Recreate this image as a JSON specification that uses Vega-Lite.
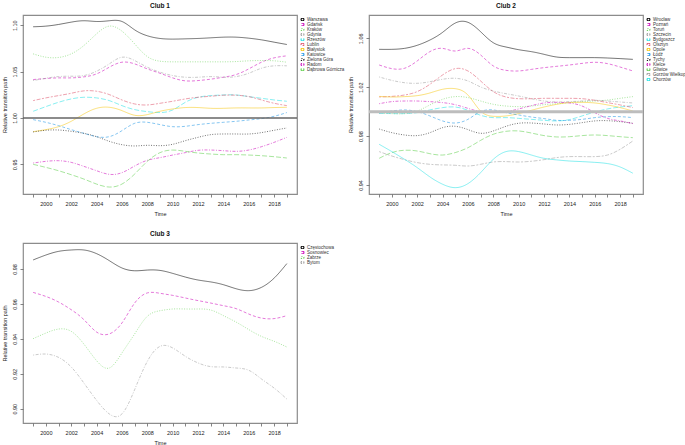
{
"$schema":"https://vega.github.io/schema/vega-lite/v6.json",
"background":"white",
"padding":{"left":1,"top":1,"right":0,"bottom":0},
"datasets":{
"club1":[
{"city":"Warszawa","year":1999,"value":1.0983},{"city":"Warszawa","year":2000,"value":1.0990},{"city":"Warszawa","year":2001,"value":1.1008},{"city":"Warszawa","year":2002,"value":1.1033},{"city":"Warszawa","year":2003,"value":1.1048},{"city":"Warszawa","year":2004,"value":1.1040},{"city":"Warszawa","year":2005,"value":1.1048},{"city":"Warszawa","year":2006,"value":1.1040},{"city":"Warszawa","year":2007,"value":1.0950},{"city":"Warszawa","year":2008,"value":1.0886},{"city":"Warszawa","year":2009,"value":1.0857},{"city":"Warszawa","year":2010,"value":1.0850},{"city":"Warszawa","year":2011,"value":1.0853},{"city":"Warszawa","year":2012,"value":1.0857},{"city":"Warszawa","year":2013,"value":1.0864},{"city":"Warszawa","year":2014,"value":1.0871},{"city":"Warszawa","year":2015,"value":1.0871},{"city":"Warszawa","year":2016,"value":1.0860},{"city":"Warszawa","year":2017,"value":1.0842},{"city":"Warszawa","year":2018,"value":1.0817},{"city":"Warszawa","year":2019,"value":1.0792},
{"city":"Gdańsk","year":1999,"value":1.0414},{"city":"Gdańsk","year":2000,"value":1.0425},{"city":"Gdańsk","year":2001,"value":1.0432},{"city":"Gdańsk","year":2002,"value":1.0432},{"city":"Gdańsk","year":2003,"value":1.0443},{"city":"Gdańsk","year":2004,"value":1.0475},{"city":"Gdańsk","year":2005,"value":1.0547},{"city":"Gdańsk","year":2006,"value":1.0601},{"city":"Gdańsk","year":2007,"value":1.0583},{"city":"Gdańsk","year":2008,"value":1.0529},{"city":"Gdańsk","year":2009,"value":1.0482},{"city":"Gdańsk","year":2010,"value":1.0432},{"city":"Gdańsk","year":2011,"value":1.0400},{"city":"Gdańsk","year":2012,"value":1.0403},{"city":"Gdańsk","year":2013,"value":1.0418},{"city":"Gdańsk","year":2014,"value":1.0439},{"city":"Gdańsk","year":2015,"value":1.0468},{"city":"Gdańsk","year":2016,"value":1.0529},{"city":"Gdańsk","year":2017,"value":1.0601},{"city":"Gdańsk","year":2018,"value":1.0648},{"city":"Gdańsk","year":2019,"value":1.0670},
{"city":"Kraków","year":1999,"value":1.0691},{"city":"Kraków","year":2000,"value":1.0655},{"city":"Kraków","year":2001,"value":1.0652},{"city":"Kraków","year":2002,"value":1.0691},{"city":"Kraków","year":2003,"value":1.0781},{"city":"Kraków","year":2004,"value":1.0907},{"city":"Kraków","year":2005,"value":1.0990},{"city":"Kraków","year":2006,"value":1.0936},{"city":"Kraków","year":2007,"value":1.0799},{"city":"Kraków","year":2008,"value":1.0662},{"city":"Kraków","year":2009,"value":1.0612},{"city":"Kraków","year":2010,"value":1.0605},{"city":"Kraków","year":2011,"value":1.0605},{"city":"Kraków","year":2012,"value":1.0605},{"city":"Kraków","year":2013,"value":1.0605},{"city":"Kraków","year":2014,"value":1.0605},{"city":"Kraków","year":2015,"value":1.0608},{"city":"Kraków","year":2016,"value":1.0616},{"city":"Kraków","year":2017,"value":1.0619},{"city":"Kraków","year":2018,"value":1.0616},{"city":"Kraków","year":2019,"value":1.0601},
{"city":"Gdynia","year":1999,"value":1.0403},{"city":"Gdynia","year":2000,"value":1.0428},{"city":"Gdynia","year":2001,"value":1.0446},{"city":"Gdynia","year":2002,"value":1.0450},{"city":"Gdynia","year":2003,"value":1.0457},{"city":"Gdynia","year":2004,"value":1.0504},{"city":"Gdynia","year":2005,"value":1.0583},{"city":"Gdynia","year":2006,"value":1.0655},{"city":"Gdynia","year":2007,"value":1.0619},{"city":"Gdynia","year":2008,"value":1.0547},{"city":"Gdynia","year":2009,"value":1.0493},{"city":"Gdynia","year":2010,"value":1.0457},{"city":"Gdynia","year":2011,"value":1.0439},{"city":"Gdynia","year":2012,"value":1.0439},{"city":"Gdynia","year":2013,"value":1.0446},{"city":"Gdynia","year":2014,"value":1.0439},{"city":"Gdynia","year":2015,"value":1.0446},{"city":"Gdynia","year":2016,"value":1.0482},{"city":"Gdynia","year":2017,"value":1.0536},{"city":"Gdynia","year":2018,"value":1.0562},{"city":"Gdynia","year":2019,"value":1.0562},
{"city":"Rzeszów","year":1999,"value":1.0072},{"city":"Rzeszów","year":2000,"value":1.0122},{"city":"Rzeszów","year":2001,"value":1.0169},{"city":"Rzeszów","year":2002,"value":1.0205},{"city":"Rzeszów","year":2003,"value":1.0223},{"city":"Rzeszów","year":2004,"value":1.0216},{"city":"Rzeszów","year":2005,"value":1.0187},{"city":"Rzeszów","year":2006,"value":1.0133},{"city":"Rzeszów","year":2007,"value":1.0090},{"city":"Rzeszów","year":2008,"value":1.0068},{"city":"Rzeszów","year":2009,"value":1.0058},{"city":"Rzeszów","year":2010,"value":1.0086},{"city":"Rzeszów","year":2011,"value":1.0169},{"city":"Rzeszów","year":2012,"value":1.0223},{"city":"Rzeszów","year":2013,"value":1.0241},{"city":"Rzeszów","year":2014,"value":1.0248},{"city":"Rzeszów","year":2015,"value":1.0248},{"city":"Rzeszów","year":2016,"value":1.0230},{"city":"Rzeszów","year":2017,"value":1.0212},{"city":"Rzeszów","year":2018,"value":1.0194},{"city":"Rzeszów","year":2019,"value":1.0180},
{"city":"Lublin","year":1999,"value":1.0187},{"city":"Lublin","year":2000,"value":1.0216},{"city":"Lublin","year":2001,"value":1.0241},{"city":"Lublin","year":2002,"value":1.0266},{"city":"Lublin","year":2003,"value":1.0292},{"city":"Lublin","year":2004,"value":1.0288},{"city":"Lublin","year":2005,"value":1.0252},{"city":"Lublin","year":2006,"value":1.0194},{"city":"Lublin","year":2007,"value":1.0151},{"city":"Lublin","year":2008,"value":1.0140},{"city":"Lublin","year":2009,"value":1.0158},{"city":"Lublin","year":2010,"value":1.0180},{"city":"Lublin","year":2011,"value":1.0205},{"city":"Lublin","year":2012,"value":1.0223},{"city":"Lublin","year":2013,"value":1.0234},{"city":"Lublin","year":2014,"value":1.0245},{"city":"Lublin","year":2015,"value":1.0245},{"city":"Lublin","year":2016,"value":1.0230},{"city":"Lublin","year":2017,"value":1.0194},{"city":"Lublin","year":2018,"value":1.0158},{"city":"Lublin","year":2019,"value":1.0133},
{"city":"Białystok","year":1999,"value":0.9852},{"city":"Białystok","year":2000,"value":0.9874},{"city":"Białystok","year":2001,"value":0.9906},{"city":"Białystok","year":2002,"value":0.9964},{"city":"Białystok","year":2003,"value":1.0043},{"city":"Białystok","year":2004,"value":1.0104},{"city":"Białystok","year":2005,"value":1.0115},{"city":"Białystok","year":2006,"value":1.0079},{"city":"Białystok","year":2007,"value":1.0029},{"city":"Białystok","year":2008,"value":1.0036},{"city":"Białystok","year":2009,"value":1.0072},{"city":"Białystok","year":2010,"value":1.0097},{"city":"Białystok","year":2011,"value":1.0112},{"city":"Białystok","year":2012,"value":1.0112},{"city":"Białystok","year":2013,"value":1.0104},{"city":"Białystok","year":2014,"value":1.0104},{"city":"Białystok","year":2015,"value":1.0108},{"city":"Białystok","year":2016,"value":1.0108},{"city":"Białystok","year":2017,"value":1.0108},{"city":"Białystok","year":2018,"value":1.0112},{"city":"Białystok","year":2019,"value":1.0115},
{"city":"Katowice","year":1999,"value":0.9982},{"city":"Katowice","year":2000,"value":0.9953},{"city":"Katowice","year":2001,"value":0.9917},{"city":"Katowice","year":2002,"value":0.9874},{"city":"Katowice","year":2003,"value":0.9834},{"city":"Katowice","year":2004,"value":0.9798},{"city":"Katowice","year":2005,"value":0.9798},{"city":"Katowice","year":2006,"value":0.9863},{"city":"Katowice","year":2007,"value":0.9942},{"city":"Katowice","year":2008,"value":0.9953},{"city":"Katowice","year":2009,"value":0.9928},{"city":"Katowice","year":2010,"value":0.9906},{"city":"Katowice","year":2011,"value":0.9910},{"city":"Katowice","year":2012,"value":0.9928},{"city":"Katowice","year":2013,"value":0.9942},{"city":"Katowice","year":2014,"value":0.9953},{"city":"Katowice","year":2015,"value":0.9964},{"city":"Katowice","year":2016,"value":0.9978},{"city":"Katowice","year":2017,"value":0.9993},{"city":"Katowice","year":2018,"value":1.0018},{"city":"Katowice","year":2019,"value":1.0058},
{"city":"Zielona Góra","year":1999,"value":0.9849},{"city":"Zielona Góra","year":2000,"value":0.9867},{"city":"Zielona Góra","year":2001,"value":0.9870},{"city":"Zielona Góra","year":2002,"value":0.9856},{"city":"Zielona Góra","year":2003,"value":0.9834},{"city":"Zielona Góra","year":2004,"value":0.9798},{"city":"Zielona Góra","year":2005,"value":0.9748},{"city":"Zielona Góra","year":2006,"value":0.9712},{"city":"Zielona Góra","year":2007,"value":0.9698},{"city":"Zielona Góra","year":2008,"value":0.9705},{"city":"Zielona Góra","year":2009,"value":0.9701},{"city":"Zielona Góra","year":2010,"value":0.9716},{"city":"Zielona Góra","year":2011,"value":0.9755},{"city":"Zielona Góra","year":2012,"value":0.9791},{"city":"Zielona Góra","year":2013,"value":0.9820},{"city":"Zielona Góra","year":2014,"value":0.9827},{"city":"Zielona Góra","year":2015,"value":0.9827},{"city":"Zielona Góra","year":2016,"value":0.9827},{"city":"Zielona Góra","year":2017,"value":0.9842},{"city":"Zielona Góra","year":2018,"value":0.9867},{"city":"Zielona Góra","year":2019,"value":0.9892},
{"city":"Radom","year":1999,"value":0.9514},{"city":"Radom","year":2000,"value":0.9532},{"city":"Radom","year":2001,"value":0.9539},{"city":"Radom","year":2002,"value":0.9521},{"city":"Radom","year":2003,"value":0.9478},{"city":"Radom","year":2004,"value":0.9431},{"city":"Radom","year":2005,"value":0.9392},{"city":"Radom","year":2006,"value":0.9410},{"city":"Radom","year":2007,"value":0.9482},{"city":"Radom","year":2008,"value":0.9543},{"city":"Radom","year":2009,"value":0.9572},{"city":"Radom","year":2010,"value":0.9600},{"city":"Radom","year":2011,"value":0.9626},{"city":"Radom","year":2012,"value":0.9651},{"city":"Radom","year":2013,"value":0.9654},{"city":"Radom","year":2014,"value":0.9647},{"city":"Radom","year":2015,"value":0.9640},{"city":"Radom","year":2016,"value":0.9654},{"city":"Radom","year":2017,"value":0.9690},{"city":"Radom","year":2018,"value":0.9737},{"city":"Radom","year":2019,"value":0.9791},
{"city":"Dąbrowa Górnicza","year":1999,"value":0.9500},{"city":"Dąbrowa Górnicza","year":2000,"value":0.9467},{"city":"Dąbrowa Górnicza","year":2001,"value":0.9431},{"city":"Dąbrowa Górnicza","year":2002,"value":0.9388},{"city":"Dąbrowa Górnicza","year":2003,"value":0.9341},{"city":"Dąbrowa Górnicza","year":2004,"value":0.9287},{"city":"Dąbrowa Górnicza","year":2005,"value":0.9255},{"city":"Dąbrowa Górnicza","year":2006,"value":0.9287},{"city":"Dąbrowa Górnicza","year":2007,"value":0.9395},{"city":"Dąbrowa Górnicza","year":2008,"value":0.9532},{"city":"Dąbrowa Górnicza","year":2009,"value":0.9626},{"city":"Dąbrowa Górnicza","year":2010,"value":0.9654},{"city":"Dąbrowa Górnicza","year":2011,"value":0.9640},{"city":"Dąbrowa Górnicza","year":2012,"value":0.9622},{"city":"Dąbrowa Górnicza","year":2013,"value":0.9611},{"city":"Dąbrowa Górnicza","year":2014,"value":0.9604},{"city":"Dąbrowa Górnicza","year":2015,"value":0.9604},{"city":"Dąbrowa Górnicza","year":2016,"value":0.9600},{"city":"Dąbrowa Górnicza","year":2017,"value":0.9593},{"city":"Dąbrowa Górnicza","year":2018,"value":0.9582},{"city":"Dąbrowa Górnicza","year":2019,"value":0.9568}
],
"club2":[
{"city":"Wrocław","year":1999,"value":1.0510},{"city":"Wrocław","year":2000,"value":1.0510},{"city":"Wrocław","year":2001,"value":1.0518},{"city":"Wrocław","year":2002,"value":1.0543},{"city":"Wrocław","year":2003,"value":1.0586},{"city":"Wrocław","year":2004,"value":1.0649},{"city":"Wrocław","year":2005,"value":1.0725},{"city":"Wrocław","year":2006,"value":1.0731},{"city":"Wrocław","year":2007,"value":1.0654},{"city":"Wrocław","year":2008,"value":1.0564},{"city":"Wrocław","year":2009,"value":1.0529},{"city":"Wrocław","year":2010,"value":1.0507},{"city":"Wrocław","year":2011,"value":1.0491},{"city":"Wrocław","year":2012,"value":1.0469},{"city":"Wrocław","year":2013,"value":1.0447},{"city":"Wrocław","year":2014,"value":1.0442},{"city":"Wrocław","year":2015,"value":1.0442},{"city":"Wrocław","year":2016,"value":1.0442},{"city":"Wrocław","year":2017,"value":1.0439},{"city":"Wrocław","year":2018,"value":1.0434},{"city":"Wrocław","year":2019,"value":1.0428},
{"city":"Poznań","year":1999,"value":1.0382},{"city":"Poznań","year":2000,"value":1.0352},{"city":"Poznań","year":2001,"value":1.0355},{"city":"Poznań","year":2002,"value":1.0415},{"city":"Poznań","year":2003,"value":1.0491},{"city":"Poznań","year":2004,"value":1.0518},{"city":"Poznań","year":2005,"value":1.0496},{"city":"Poznań","year":2006,"value":1.0518},{"city":"Poznań","year":2007,"value":1.0464},{"city":"Poznań","year":2008,"value":1.0374},{"city":"Poznań","year":2009,"value":1.0338},{"city":"Poznań","year":2010,"value":1.0333},{"city":"Poznań","year":2011,"value":1.0346},{"city":"Poznań","year":2012,"value":1.0360},{"city":"Poznań","year":2013,"value":1.0371},{"city":"Poznań","year":2014,"value":1.0382},{"city":"Poznań","year":2015,"value":1.0395},{"city":"Poznań","year":2016,"value":1.0404},{"city":"Poznań","year":2017,"value":1.0393},{"city":"Poznań","year":2018,"value":1.0365},{"city":"Poznań","year":2019,"value":1.0333},
{"city":"Toruń","year":1999,"value":0.9989},{"city":"Toruń","year":2000,"value":0.9984},{"city":"Toruń","year":2001,"value":0.9984},{"city":"Toruń","year":2002,"value":1.0005},{"city":"Toruń","year":2003,"value":1.0055},{"city":"Toruń","year":2004,"value":1.0101},{"city":"Toruń","year":2005,"value":1.0123},{"city":"Toruń","year":2006,"value":1.0115},{"city":"Toruń","year":2007,"value":1.0087},{"city":"Toruń","year":2008,"value":1.0060},{"city":"Toruń","year":2009,"value":1.0046},{"city":"Toruń","year":2010,"value":1.0041},{"city":"Toruń","year":2011,"value":1.0046},{"city":"Toruń","year":2012,"value":1.0057},{"city":"Toruń","year":2013,"value":1.0065},{"city":"Toruń","year":2014,"value":1.0074},{"city":"Toruń","year":2015,"value":1.0082},{"city":"Toruń","year":2016,"value":1.0087},{"city":"Toruń","year":2017,"value":1.0095},{"city":"Toruń","year":2018,"value":1.0109},{"city":"Toruń","year":2019,"value":1.0123},
{"city":"Szczecin","year":1999,"value":1.0284},{"city":"Szczecin","year":2000,"value":1.0256},{"city":"Szczecin","year":2001,"value":1.0237},{"city":"Szczecin","year":2002,"value":1.0232},{"city":"Szczecin","year":2003,"value":1.0245},{"city":"Szczecin","year":2004,"value":1.0265},{"city":"Szczecin","year":2005,"value":1.0273},{"city":"Szczecin","year":2006,"value":1.0251},{"city":"Szczecin","year":2007,"value":1.0202},{"city":"Szczecin","year":2008,"value":1.0169},{"city":"Szczecin","year":2009,"value":1.0147},{"city":"Szczecin","year":2010,"value":1.0128},{"city":"Szczecin","year":2011,"value":1.0106},{"city":"Szczecin","year":2012,"value":1.0087},{"city":"Szczecin","year":2013,"value":1.0079},{"city":"Szczecin","year":2014,"value":1.0082},{"city":"Szczecin","year":2015,"value":1.0087},{"city":"Szczecin","year":2016,"value":1.0093},{"city":"Szczecin","year":2017,"value":1.0087},{"city":"Szczecin","year":2018,"value":1.0079},{"city":"Szczecin","year":2019,"value":1.0071},
{"city":"Bydgoszcz","year":1999,"value":0.9986},{"city":"Bydgoszcz","year":2000,"value":0.9984},{"city":"Bydgoszcz","year":2001,"value":0.9984},{"city":"Bydgoszcz","year":2002,"value":0.9992},{"city":"Bydgoszcz","year":2003,"value":1.0014},{"city":"Bydgoszcz","year":2004,"value":1.0033},{"city":"Bydgoszcz","year":2005,"value":1.0038},{"city":"Bydgoszcz","year":2006,"value":1.0011},{"city":"Bydgoszcz","year":2007,"value":0.9970},{"city":"Bydgoszcz","year":2008,"value":0.9951},{"city":"Bydgoszcz","year":2009,"value":0.9951},{"city":"Bydgoszcz","year":2010,"value":0.9945},{"city":"Bydgoszcz","year":2011,"value":0.9937},{"city":"Bydgoszcz","year":2012,"value":0.9929},{"city":"Bydgoszcz","year":2013,"value":0.9924},{"city":"Bydgoszcz","year":2014,"value":0.9935},{"city":"Bydgoszcz","year":2015,"value":0.9965},{"city":"Bydgoszcz","year":2016,"value":0.9997},{"city":"Bydgoszcz","year":2017,"value":1.0022},{"city":"Bydgoszcz","year":2018,"value":1.0038},{"city":"Bydgoszcz","year":2019,"value":1.0049},
{"city":"Olsztyn","year":1999,"value":1.0120},{"city":"Olsztyn","year":2000,"value":1.0125},{"city":"Olsztyn","year":2001,"value":1.0136},{"city":"Olsztyn","year":2002,"value":1.0164},{"city":"Olsztyn","year":2003,"value":1.0224},{"city":"Olsztyn","year":2004,"value":1.0300},{"city":"Olsztyn","year":2005,"value":1.0352},{"city":"Olsztyn","year":2006,"value":1.0333},{"city":"Olsztyn","year":2007,"value":1.0251},{"city":"Olsztyn","year":2008,"value":1.0164},{"city":"Olsztyn","year":2009,"value":1.0120},{"city":"Olsztyn","year":2010,"value":1.0106},{"city":"Olsztyn","year":2011,"value":1.0106},{"city":"Olsztyn","year":2012,"value":1.0109},{"city":"Olsztyn","year":2013,"value":1.0109},{"city":"Olsztyn","year":2014,"value":1.0109},{"city":"Olsztyn","year":2015,"value":1.0106},{"city":"Olsztyn","year":2016,"value":1.0093},{"city":"Olsztyn","year":2017,"value":1.0074},{"city":"Olsztyn","year":2018,"value":1.0055},{"city":"Olsztyn","year":2019,"value":1.0033},
{"city":"Opole","year":1999,"value":1.0125},{"city":"Opole","year":2000,"value":1.0120},{"city":"Opole","year":2001,"value":1.0123},{"city":"Opole","year":2002,"value":1.0131},{"city":"Opole","year":2003,"value":1.0153},{"city":"Opole","year":2004,"value":1.0183},{"city":"Opole","year":2005,"value":1.0188},{"city":"Opole","year":2006,"value":1.0136},{"city":"Opole","year":2007,"value":1.0005},{"city":"Opole","year":2008,"value":0.9962},{"city":"Opole","year":2009,"value":0.9965},{"city":"Opole","year":2010,"value":0.9984},{"city":"Opole","year":2011,"value":1.0011},{"city":"Opole","year":2012,"value":1.0038},{"city":"Opole","year":2013,"value":1.0060},{"city":"Opole","year":2014,"value":1.0074},{"city":"Opole","year":2015,"value":1.0076},{"city":"Opole","year":2016,"value":1.0071},{"city":"Opole","year":2017,"value":1.0055},{"city":"Opole","year":2018,"value":1.0033},{"city":"Opole","year":2019,"value":1.0005},
{"city":"Łódź","year":1999,"value":0.9989},{"city":"Łódź","year":2000,"value":1.0005},{"city":"Łódź","year":2001,"value":1.0014},{"city":"Łódź","year":2002,"value":1.0000},{"city":"Łódź","year":2003,"value":0.9965},{"city":"Łódź","year":2004,"value":0.9924},{"city":"Łódź","year":2005,"value":0.9907},{"city":"Łódź","year":2006,"value":0.9937},{"city":"Łódź","year":2007,"value":1.0000},{"city":"Łódź","year":2008,"value":1.0014},{"city":"Łódź","year":2009,"value":0.9992},{"city":"Łódź","year":2010,"value":0.9973},{"city":"Łódź","year":2011,"value":0.9956},{"city":"Łódź","year":2012,"value":0.9943},{"city":"Łódź","year":2013,"value":0.9929},{"city":"Łódź","year":2014,"value":0.9929},{"city":"Łódź","year":2015,"value":0.9937},{"city":"Łódź","year":2016,"value":0.9951},{"city":"Łódź","year":2017,"value":0.9959},{"city":"Łódź","year":2018,"value":0.9959},{"city":"Łódź","year":2019,"value":0.9951},
{"city":"Tychy","year":1999,"value":0.9858},{"city":"Tychy","year":2000,"value":0.9828},{"city":"Tychy","year":2001,"value":0.9809},{"city":"Tychy","year":2002,"value":0.9804},{"city":"Tychy","year":2003,"value":0.9828},{"city":"Tychy","year":2004,"value":0.9869},{"city":"Tychy","year":2005,"value":0.9880},{"city":"Tychy","year":2006,"value":0.9853},{"city":"Tychy","year":2007,"value":0.9823},{"city":"Tychy","year":2008,"value":0.9842},{"city":"Tychy","year":2009,"value":0.9880},{"city":"Tychy","year":2010,"value":0.9905},{"city":"Tychy","year":2011,"value":0.9907},{"city":"Tychy","year":2012,"value":0.9899},{"city":"Tychy","year":2013,"value":0.9891},{"city":"Tychy","year":2014,"value":0.9896},{"city":"Tychy","year":2015,"value":0.9910},{"city":"Tychy","year":2016,"value":0.9924},{"city":"Tychy","year":2017,"value":0.9926},{"city":"Tychy","year":2018,"value":0.9918},{"city":"Tychy","year":2019,"value":0.9905},
{"city":"Kielce","year":1999,"value":1.0065},{"city":"Kielce","year":2000,"value":1.0082},{"city":"Kielce","year":2001,"value":1.0087},{"city":"Kielce","year":2002,"value":1.0087},{"city":"Kielce","year":2003,"value":1.0082},{"city":"Kielce","year":2004,"value":1.0074},{"city":"Kielce","year":2005,"value":1.0057},{"city":"Kielce","year":2006,"value":1.0027},{"city":"Kielce","year":2007,"value":1.0000},{"city":"Kielce","year":2008,"value":0.9992},{"city":"Kielce","year":2009,"value":1.0000},{"city":"Kielce","year":2010,"value":1.0022},{"city":"Kielce","year":2011,"value":1.0049},{"city":"Kielce","year":2012,"value":1.0071},{"city":"Kielce","year":2013,"value":1.0076},{"city":"Kielce","year":2014,"value":1.0071},{"city":"Kielce","year":2015,"value":1.0046},{"city":"Kielce","year":2016,"value":0.9992},{"city":"Kielce","year":2017,"value":0.9945},{"city":"Kielce","year":2018,"value":0.9924},{"city":"Kielce","year":2019,"value":0.9902},
{"city":"Gliwice","year":1999,"value":0.9618},{"city":"Gliwice","year":2000,"value":0.9665},{"city":"Gliwice","year":2001,"value":0.9684},{"city":"Gliwice","year":2002,"value":0.9678},{"city":"Gliwice","year":2003,"value":0.9656},{"city":"Gliwice","year":2004,"value":0.9645},{"city":"Gliwice","year":2005,"value":0.9665},{"city":"Gliwice","year":2006,"value":0.9705},{"city":"Gliwice","year":2007,"value":0.9765},{"city":"Gliwice","year":2008,"value":0.9815},{"city":"Gliwice","year":2009,"value":0.9839},{"city":"Gliwice","year":2010,"value":0.9842},{"city":"Gliwice","year":2011,"value":0.9825},{"city":"Gliwice","year":2012,"value":0.9804},{"city":"Gliwice","year":2013,"value":0.9793},{"city":"Gliwice","year":2014,"value":0.9795},{"city":"Gliwice","year":2015,"value":0.9804},{"city":"Gliwice","year":2016,"value":0.9809},{"city":"Gliwice","year":2017,"value":0.9804},{"city":"Gliwice","year":2018,"value":0.9795},{"city":"Gliwice","year":2019,"value":0.9787},
{"city":"Gorzów Wielkopolski","year":1999,"value":0.9673},{"city":"Gorzów Wielkopolski","year":2000,"value":0.9637},{"city":"Gorzów Wielkopolski","year":2001,"value":0.9607},{"city":"Gorzów Wielkopolski","year":2002,"value":0.9583},{"city":"Gorzów Wielkopolski","year":2003,"value":0.9569},{"city":"Gorzów Wielkopolski","year":2004,"value":0.9564},{"city":"Gorzów Wielkopolski","year":2005,"value":0.9561},{"city":"Gorzów Wielkopolski","year":2006,"value":0.9555},{"city":"Gorzów Wielkopolski","year":2007,"value":0.9569},{"city":"Gorzów Wielkopolski","year":2008,"value":0.9588},{"city":"Gorzów Wielkopolski","year":2009,"value":0.9591},{"city":"Gorzów Wielkopolski","year":2010,"value":0.9588},{"city":"Gorzów Wielkopolski","year":2011,"value":0.9594},{"city":"Gorzów Wielkopolski","year":2012,"value":0.9607},{"city":"Gorzów Wielkopolski","year":2013,"value":0.9624},{"city":"Gorzów Wielkopolski","year":2014,"value":0.9632},{"city":"Gorzów Wielkopolski","year":2015,"value":0.9632},{"city":"Gorzów Wielkopolski","year":2016,"value":0.9632},{"city":"Gorzów Wielkopolski","year":2017,"value":0.9645},{"city":"Gorzów Wielkopolski","year":2018,"value":0.9692},{"city":"Gorzów Wielkopolski","year":2019,"value":0.9760},
{"city":"Chorzów","year":1999,"value":0.9733},{"city":"Chorzów","year":2000,"value":0.9673},{"city":"Chorzów","year":2001,"value":0.9610},{"city":"Chorzów","year":2002,"value":0.9542},{"city":"Chorzów","year":2003,"value":0.9466},{"city":"Chorzów","year":2004,"value":0.9406},{"city":"Chorzów","year":2005,"value":0.9378},{"city":"Chorzów","year":2006,"value":0.9411},{"city":"Chorzów","year":2007,"value":0.9501},{"city":"Chorzów","year":2008,"value":0.9610},{"city":"Chorzów","year":2009,"value":0.9673},{"city":"Chorzów","year":2010,"value":0.9673},{"city":"Chorzów","year":2011,"value":0.9645},{"city":"Chorzów","year":2012,"value":0.9618},{"city":"Chorzów","year":2013,"value":0.9605},{"city":"Chorzów","year":2014,"value":0.9596},{"city":"Chorzów","year":2015,"value":0.9591},{"city":"Chorzów","year":2016,"value":0.9585},{"city":"Chorzów","year":2017,"value":0.9575},{"city":"Chorzów","year":2018,"value":0.9547},{"city":"Chorzów","year":2019,"value":0.9496}
],
"club3":[
{"city":"Częstochowa","year":1999,"value":0.9852},{"city":"Częstochowa","year":2000,"value":0.9880},{"city":"Częstochowa","year":2001,"value":0.9901},{"city":"Częstochowa","year":2002,"value":0.9909},{"city":"Częstochowa","year":2003,"value":0.9909},{"city":"Częstochowa","year":2004,"value":0.9888},{"city":"Częstochowa","year":2005,"value":0.9848},{"city":"Częstochowa","year":2006,"value":0.9806},{"city":"Częstochowa","year":2007,"value":0.9790},{"city":"Częstochowa","year":2008,"value":0.9794},{"city":"Częstochowa","year":2009,"value":0.9792},{"city":"Częstochowa","year":2010,"value":0.9775},{"city":"Częstochowa","year":2011,"value":0.9754},{"city":"Częstochowa","year":2012,"value":0.9737},{"city":"Częstochowa","year":2013,"value":0.9726},{"city":"Częstochowa","year":2014,"value":0.9710},{"city":"Częstochowa","year":2015,"value":0.9687},{"city":"Częstochowa","year":2016,"value":0.9676},{"city":"Częstochowa","year":2017,"value":0.9695},{"city":"Częstochowa","year":2018,"value":0.9748},{"city":"Częstochowa","year":2019,"value":0.9831},
{"city":"Sosnowiec","year":1999,"value":0.9666},{"city":"Sosnowiec","year":2000,"value":0.9643},{"city":"Sosnowiec","year":2001,"value":0.9611},{"city":"Sosnowiec","year":2002,"value":0.9567},{"city":"Sosnowiec","year":2003,"value":0.9510},{"city":"Sosnowiec","year":2004,"value":0.9439},{"city":"Sosnowiec","year":2005,"value":0.9428},{"city":"Sosnowiec","year":2006,"value":0.9491},{"city":"Sosnowiec","year":2007,"value":0.9605},{"city":"Sosnowiec","year":2008,"value":0.9663},{"city":"Sosnowiec","year":2009,"value":0.9661},{"city":"Sosnowiec","year":2010,"value":0.9649},{"city":"Sosnowiec","year":2011,"value":0.9634},{"city":"Sosnowiec","year":2012,"value":0.9619},{"city":"Sosnowiec","year":2013,"value":0.9605},{"city":"Sosnowiec","year":2014,"value":0.9590},{"city":"Sosnowiec","year":2015,"value":0.9573},{"city":"Sosnowiec","year":2016,"value":0.9542},{"city":"Sosnowiec","year":2017,"value":0.9519},{"city":"Sosnowiec","year":2018,"value":0.9516},{"city":"Sosnowiec","year":2019,"value":0.9533},
{"city":"Zabrze","year":1999,"value":0.9401},{"city":"Zabrze","year":2000,"value":0.9433},{"city":"Zabrze","year":2001,"value":0.9456},{"city":"Zabrze","year":2002,"value":0.9443},{"city":"Zabrze","year":2003,"value":0.9370},{"city":"Zabrze","year":2004,"value":0.9275},{"city":"Zabrze","year":2005,"value":0.9233},{"city":"Zabrze","year":2006,"value":0.9319},{"city":"Zabrze","year":2007,"value":0.9428},{"city":"Zabrze","year":2008,"value":0.9529},{"city":"Zabrze","year":2009,"value":0.9561},{"city":"Zabrze","year":2010,"value":0.9571},{"city":"Zabrze","year":2011,"value":0.9571},{"city":"Zabrze","year":2012,"value":0.9571},{"city":"Zabrze","year":2013,"value":0.9565},{"city":"Zabrze","year":2014,"value":0.9533},{"city":"Zabrze","year":2015,"value":0.9496},{"city":"Zabrze","year":2016,"value":0.9453},{"city":"Zabrze","year":2017,"value":0.9414},{"city":"Zabrze","year":2018,"value":0.9386},{"city":"Zabrze","year":2019,"value":0.9353},
{"city":"Bytom","year":1999,"value":0.9307},{"city":"Bytom","year":2000,"value":0.9313},{"city":"Bytom","year":2001,"value":0.9294},{"city":"Bytom","year":2002,"value":0.9239},{"city":"Bytom","year":2003,"value":0.9147},{"city":"Bytom","year":2004,"value":0.9048},{"city":"Bytom","year":2005,"value":0.8970},{"city":"Bytom","year":2006,"value":0.8970},{"city":"Bytom","year":2007,"value":0.9109},{"city":"Bytom","year":2008,"value":0.9271},{"city":"Bytom","year":2009,"value":0.9357},{"city":"Bytom","year":2010,"value":0.9348},{"city":"Bytom","year":2011,"value":0.9300},{"city":"Bytom","year":2012,"value":0.9262},{"city":"Bytom","year":2013,"value":0.9241},{"city":"Bytom","year":2014,"value":0.9239},{"city":"Bytom","year":2015,"value":0.9233},{"city":"Bytom","year":2016,"value":0.9220},{"city":"Bytom","year":2017,"value":0.9170},{"city":"Bytom","year":2018,"value":0.9118},{"city":"Bytom","year":2019,"value":0.9055}
]
},
"columns":2,
"bounds":"flush",
"spacing":{"row":49,"column":72},
"resolve":{"scale":{"x":"independent","y":"independent","color":"independent","strokeDash":"independent"},"legend":{"color":"independent","strokeDash":"independent"}},
"concat":[
{"title":"Club 1","width":274,"height":179,
"layer":[
{"data":{"name":"club1"},
"mark":{"type":"line","interpolate":"natural","strokeWidth":1,"opacity":0.55},
"encoding":{
"x":{"field":"year","type":"quantitative","scale":{"domain":[1998.2,2019.8],"nice":false,"zero":false},"axis":{"title":"Time","values":[1999,2000,2001,2002,2003,2004,2005,2006,2007,2008,2009,2010,2011,2012,2013,2014,2015,2016,2017,2018,2019],"format":"d","labelExpr":"datum.value % 2 == 0 ? datum.label : ''"}},
"y":{"field":"value","type":"quantitative","scale":{"domain":[0.918,1.111],"nice":false,"zero":false},"axis":{"title":"Relative transition path","values":[0.95,1.0,1.05,1.1],"format":".2f"}},
"color":{"field":"city","type":"nominal","scale":{"domain":["Warszawa","Gdańsk","Kraków","Gdynia","Rzeszów","Lublin","Białystok","Katowice","Zielona Góra","Radom","Dąbrowa Górnicza"],"range":["#000000","#CD0BBC","#61D04F","#9E9E9E","#28E2E5","#DF536B","#F5C710","#2297E6","#000000","#CD0BBC","#61D04F"]},"legend":{"title":null,"orient":"none","legendX":277,"legendY":3,"symbolType":"circle","symbolOpacity":0.9,"clipHeight":3,"rowPadding":0}},
"strokeDash":{"field":"city","type":"nominal","scale":{"domain":["Warszawa","Gdańsk","Kraków","Gdynia","Rzeszów","Lublin","Białystok","Katowice","Zielona Góra","Radom","Dąbrowa Górnicza"],"range":[[1,0],[3,2],[1,1.5],[1,1.5,3,1.5],[5,2],[2,1.5,4,1.5],[1,0],[3,2],[1,1.5],[1,1.5,3,1.5],[5,2]]},"legend":null}
}},
{"data":{"values":[{"ref":1}]},"mark":{"type":"rule","color":"#666666","strokeWidth":1.5},"encoding":{"y":{"field":"ref","type":"quantitative"}}}
]},
{"title":"Club 2","width":274,"height":179,
"layer":[
{"data":{"name":"club2"},
"mark":{"type":"line","interpolate":"natural","strokeWidth":1,"opacity":0.55},
"encoding":{
"x":{"field":"year","type":"quantitative","scale":{"domain":[1998.2,2019.8],"nice":false,"zero":false},"axis":{"title":"Time","values":[1999,2000,2001,2002,2003,2004,2005,2006,2007,2008,2009,2010,2011,2012,2013,2014,2015,2016,2017,2018,2019],"format":"d","labelExpr":"datum.value % 2 == 0 ? datum.label : ''"}},
"y":{"field":"value","type":"quantitative","scale":{"domain":[0.9326,1.0791],"nice":false,"zero":false},"axis":{"title":"Relative transition path","values":[0.94,0.96,0.98,1.0,1.02,1.04,1.06],"format":".2f"}},
"color":{"field":"city","type":"nominal","scale":{"domain":["Wrocław","Poznań","Toruń","Szczecin","Bydgoszcz","Olsztyn","Opole","Łódź","Tychy","Kielce","Gliwice","Gorzów Wielkopolski","Chorzów"],"range":["#000000","#CD0BBC","#61D04F","#9E9E9E","#28E2E5","#DF536B","#F5C710","#2297E6","#000000","#CD0BBC","#61D04F","#9E9E9E","#28E2E5"]},"legend":{"title":null,"orient":"none","legendX":277,"legendY":3,"symbolType":"circle","symbolOpacity":0.9,"clipHeight":3,"rowPadding":0}},
"strokeDash":{"field":"city","type":"nominal","scale":{"domain":["Wrocław","Poznań","Toruń","Szczecin","Bydgoszcz","Olsztyn","Opole","Łódź","Tychy","Kielce","Gliwice","Gorzów Wielkopolski","Chorzów"],"range":[[1,0],[3,2],[1,1.5],[1,1.5,3,1.5],[5,2],[2,1.5,4,1.5],[1,0],[3,2],[1,1.5],[1,1.5,3,1.5],[5,2],[2,1.5,4,1.5],[1,0]]},"legend":null}
}},
{"data":{"values":[{"ref":1}]},"mark":{"type":"rule","color":"#bdbdbd","strokeWidth":3},"encoding":{"y":{"field":"ref","type":"quantitative"}}}
]},
{"title":"Club 3","width":274,"height":180,
"layer":[
{"data":{"name":"club3"},
"mark":{"type":"line","interpolate":"natural","strokeWidth":1,"opacity":0.55},
"encoding":{
"x":{"field":"year","type":"quantitative","scale":{"domain":[1998.2,2019.8],"nice":false,"zero":false},"axis":{"title":"Time","values":[1999,2000,2001,2002,2003,2004,2005,2006,2007,2008,2009,2010,2011,2012,2013,2014,2015,2016,2017,2018,2019],"format":"d","labelExpr":"datum.value % 2 == 0 ? datum.label : ''"}},
"y":{"field":"value","type":"quantitative","scale":{"domain":[0.8918,0.9949],"nice":false,"zero":false},"axis":{"title":"Relative transition path","values":[0.90,0.92,0.94,0.96,0.98],"format":".2f"}},
"color":{"field":"city","type":"nominal","scale":{"domain":["Częstochowa","Sosnowiec","Zabrze","Bytom"],"range":["#000000","#CD0BBC","#61D04F","#9E9E9E"]},"legend":{"title":null,"orient":"none","legendX":277,"legendY":3,"symbolType":"circle","symbolOpacity":0.9,"clipHeight":3,"rowPadding":0}},
"strokeDash":{"field":"city","type":"nominal","scale":{"domain":["Częstochowa","Sosnowiec","Zabrze","Bytom"],"range":[[1,0],[3,2],[1,1.5],[1,1.5,3,1.5]]},"legend":null}
}}
]}
],
"config":{
"font":"Liberation Sans",
"view":{"stroke":"#8c8c8c","strokeWidth":1.2},
"axis":{"domain":false,"grid":false,"tickColor":"#666666","tickSize":3,"tickWidth":0.8,"labelFontSize":5.5,"titleFontSize":5.5,"titleFontWeight":"normal","labelColor":"#222222","titleColor":"#222222","labelFont":"Liberation Sans","titleFont":"Liberation Sans","labelOverlap":false,"labelFlush":false},
"axisX":{"labelPadding":4,"titlePadding":5},
"axisY":{"labelAngle":270,"labelAlign":"center","labelBaseline":"bottom","labelPadding":3,"titleX":-19,"titleBaseline":"middle"},
"title":{"fontSize":6.5,"fontWeight":"bold","font":"Liberation Sans","offset":6,"color":"#111111"},
"legend":{"labelFontSize":4.5,"symbolSize":8,"labelOffset":2,"padding":0,"symbolStrokeWidth":1.2,"labelLimit":300,"labelColor":"#333333","labelFont":"Liberation Sans"}
}
}
